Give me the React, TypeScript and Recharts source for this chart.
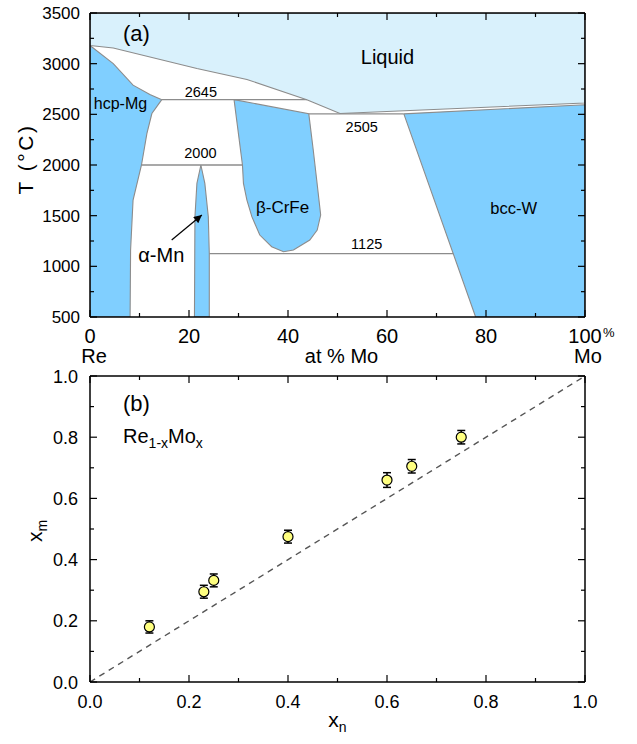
import React from "react";
import {
  ComposedChart,
  Area,
  Line,
  Scatter,
  XAxis,
  YAxis,
  ErrorBar,
  ReferenceDot,
  Label,
} from "recharts";

const FONT = "'Liberation Sans', Arial, Helvetica, sans-serif";
const LIQUID_FILL = "#d9f1fc";
const SOLID_FILL = "#80cfff";
const BOUNDARY = "#8c8c8c";

// ---- (a) Re–Mo phase diagram: x = at% Mo, t = temperature (°C)
const liquidRegion = [
  { x: 0, t: 3500 }, { x: 100, t: 3500 }, { x: 100, t: 2612 }, { x: 50.5, t: 2508 },
  { x: 43.8, t: 2645 }, { x: 31.7, t: 2844 }, { x: 21.6, t: 2952 }, { x: 4.7, t: 3155 },
  { x: 0, t: 3180 }, { x: 0, t: 3500 },
];
const hcpRegion = [
  { x: 0, t: 3180 }, { x: 4.7, t: 3000 }, { x: 8.7, t: 2788 }, { x: 12.1, t: 2696 },
  { x: 14.5, t: 2645 }, { x: 12.5, t: 2508 }, { x: 11.5, t: 2311 }, { x: 10.4, t: 2000 },
  { x: 8.7, t: 1654 }, { x: 8.2, t: 1161 }, { x: 8.1, t: 500 }, { x: 0, t: 500 },
  { x: 0, t: 3180 },
];
const betaRegion = [
  { x: 29.1, t: 2645 }, { x: 44.2, t: 2505 }, { x: 45.1, t: 2148 }, { x: 45.8, t: 1852 },
  { x: 46.6, t: 1506 }, { x: 45.9, t: 1358 }, { x: 44.4, t: 1260 }, { x: 41.1, t: 1161 },
  { x: 39.1, t: 1144 }, { x: 36.7, t: 1194 }, { x: 34.3, t: 1309 }, { x: 32.7, t: 1490 },
  { x: 31.7, t: 1654 }, { x: 31.0, t: 1819 }, { x: 30.8, t: 2000 }, { x: 29.1, t: 2645 },
];
const alphaRegion = [
  { x: 22.4, t: 2000 }, { x: 23.2, t: 1819 }, { x: 23.9, t: 1490 }, { x: 24.1, t: 1125 },
  { x: 24.1, t: 500 }, { x: 21.1, t: 500 }, { x: 21.2, t: 1490 }, { x: 21.6, t: 1819 },
  { x: 22.4, t: 2000 },
];
const bccRegion = [
  { x: 63.4, t: 2505 }, { x: 100, t: 2595 }, { x: 100, t: 500 }, { x: 77.9, t: 500 },
  { x: 63.4, t: 2505 },
];
const line2645 = [{ x: 14.5, t: 2645 }, { x: 43.8, t: 2645 }];
const line2505 = [{ x: 44.2, t: 2505 }, { x: 63.4, t: 2505 }];
const line2000 = [{ x: 10.4, t: 2000 }, { x: 30.8, t: 2000 }];
const line1125 = [{ x: 24.1, t: 1125 }, { x: 73.4, t: 1125 }];
const mnArrow = [{ x: 16.5, t: 1260 }, { x: 22.6, t: 1506 }];

const compTicks = [0, 10, 20, 30, 40, 50, 60, 70, 80, 90, 100];
const tempTicks = [
  500, 750, 1000, 1250, 1500, 1750, 2000, 2250, 2500, 2750, 3000, 3250, 3500,
];

// ---- (b) measured vs nominal Mo fraction
const xnValues = [0.12, 0.23, 0.25, 0.4, 0.6, 0.65, 0.75];
const xmValues = [0.18, 0.295, 0.332, 0.475, 0.66, 0.705, 0.8];
const xmErrors = [0.02, 0.021, 0.021, 0.021, 0.024, 0.022, 0.022];
const diagonal = [{ x: 0, y: 0 }, { x: 1, y: 1 }];
const fracTicks = [0, 0.1, 0.2, 0.3, 0.4, 0.5, 0.6, 0.7, 0.8, 0.9, 1];

const compositionData = xnValues.map((x, i) => ({ x, y: xmValues[i], err: xmErrors[i] }));

const tickLen = (major: boolean) => (major ? 7 : 4);
const isMajorFrac = (v: number) => Math.round(v * 10) % 2 === 0;

// ticks are drawn inward, labels by hand
const PhaseBottomTick = ({ x, y, payload }: any) => {
  const v = payload.value;
  const major = v % 20 === 0;
  return (
    <g fontFamily={FONT} fill="#000">
      <line x1={x} x2={x} y1={y} y2={y - tickLen(major)} stroke="#000" strokeWidth={1.2} />
      {major && (
        <text x={x} y={y + 26} textAnchor="middle" fontSize={20}>
          {v}
        </text>
      )}
      {v === 100 && (
        <text x={x + 18} y={y + 20} fontSize={13}>
          %
        </text>
      )}
      {v === 0 && (
        <text x={x + 4} y={y + 46} textAnchor="middle" fontSize={20}>
          Re
        </text>
      )}
      {v === 100 && (
        <text x={x + 3} y={y + 46} textAnchor="middle" fontSize={20}>
          Mo
        </text>
      )}
    </g>
  );
};
const PhaseTopTick = ({ x, y, payload }: any) => (
  <line x1={x} x2={x} y1={y} y2={y + tickLen(payload.value % 20 === 0)} stroke="#000" strokeWidth={1.2} />
);
const PhaseLeftTick = ({ x, y, payload }: any) => {
  const v = payload.value;
  const major = v % 500 === 0;
  return (
    <g fontFamily={FONT} fill="#000">
      <line x1={x} x2={x + tickLen(major)} y1={y} y2={y} stroke="#000" strokeWidth={1.2} />
      {major && (
        <text x={x - 10} y={y + 6} textAnchor="end" fontSize={17}>
          {v}
        </text>
      )}
    </g>
  );
};
const PhaseRightTick = ({ x, y, payload }: any) => (
  <line x1={x} x2={x - tickLen(payload.value % 500 === 0)} y1={y} y2={y} stroke="#000" strokeWidth={1.2} />
);

const FracBottomTick = ({ x, y, payload }: any) => {
  const v = payload.value;
  const major = isMajorFrac(v);
  return (
    <g fontFamily={FONT} fill="#000">
      <line x1={x} x2={x} y1={y} y2={y - tickLen(major)} stroke="#000" strokeWidth={1.2} />
      {major && (
        <text x={x} y={y + 26} textAnchor="middle" fontSize={18}>
          {v.toFixed(1)}
        </text>
      )}
    </g>
  );
};
const FracTopTick = ({ x, y, payload }: any) => (
  <line x1={x} x2={x} y1={y} y2={y + tickLen(isMajorFrac(payload.value))} stroke="#000" strokeWidth={1.2} />
);
const FracLeftTick = ({ x, y, payload }: any) => {
  const v = payload.value;
  const major = isMajorFrac(v);
  return (
    <g fontFamily={FONT} fill="#000">
      <line x1={x} x2={x + tickLen(major)} y1={y} y2={y} stroke="#000" strokeWidth={1.2} />
      {major && (
        <text x={x - 12} y={y + 6.5} textAnchor="end" fontSize={18}>
          {v.toFixed(1)}
        </text>
      )}
    </g>
  );
};
const FracRightTick = ({ x, y, payload }: any) => (
  <line x1={x} x2={x - tickLen(isMajorFrac(payload.value))} y1={y} y2={y} stroke="#000" strokeWidth={1.2} />
);

const annot =
  (content: React.ReactNode, size: number, anchor: "start" | "middle" = "middle") =>
  (p: any) =>
    (
      <text x={p.cx} y={p.cy} fontSize={size} textAnchor={anchor} fontFamily={FONT} fill="#000">
        {content}
      </text>
    );

const regionStyle = {
  type: "linear" as const,
  dataKey: "t",
  stroke: BOUNDARY,
  strokeWidth: 1.1,
  fillOpacity: 1,
  dot: false,
  activeDot: false,
  isAnimationActive: false,
};
const boundaryStyle = {
  type: "linear" as const,
  dataKey: "t",
  stroke: BOUNDARY,
  strokeWidth: 1.3,
  dot: false,
  activeDot: false,
  isAnimationActive: false,
};
const frame = { stroke: "#000", strokeWidth: 1.5 };

const App = () => {
  return (
    <div
      style={{ position: "absolute", left: 0, top: 0, width: 637, height: 744, background: "#fff", fontFamily: FONT }}
    >
      <div style={{ position: "absolute", left: 0, top: 0 }}>
        <ComposedChart width={637} height={368} margin={{ top: 12, right: 51, bottom: 0, left: 0 }}>
          <defs>
            <marker
              id="mnArrow"
              viewBox="0 0 10 10"
              refX="10"
              refY="5"
              markerWidth="11"
              markerHeight="8"
              markerUnits="userSpaceOnUse"
              orient="auto"
            >
              <path d="M0,0 L10,5 L0,10 z" fill="#000" />
            </marker>
          </defs>
          <Area data={liquidRegion} {...regionStyle} fill={LIQUID_FILL} />
          <Area data={hcpRegion} {...regionStyle} fill={SOLID_FILL} />
          <Area data={betaRegion} {...regionStyle} fill={SOLID_FILL} />
          <Area data={alphaRegion} {...regionStyle} fill={SOLID_FILL} />
          <Area data={bccRegion} {...regionStyle} fill={SOLID_FILL} />
          <Line data={line2645} {...boundaryStyle} />
          <Line data={line2505} {...boundaryStyle} />
          <Line data={line2000} {...boundaryStyle} />
          <Line data={line1125} {...boundaryStyle} />
          <Line
            data={mnArrow}
            dataKey="t"
            type="linear"
            stroke="#000"
            strokeWidth={1.2}
            dot={false}
            activeDot={false}
            markerEnd="url(#mnArrow)"
            isAnimationActive={false}
          />
          {/* invisible series so the mirror axes (top/right) get a domain and render */}
          <Line
            data={liquidRegion}
            xAxisId="top"
            yAxisId="right"
            dataKey="t"
            stroke="none"
            dot={false}
            activeDot={false}
            isAnimationActive={false}
          />

          <ReferenceDot x={6.67} y={3228} r={0} shape={annot("(a)", 22, "start")} />
          <ReferenceDot x={60.1} y={2997} r={0} shape={annot("Liquid", 20)} />
          <ReferenceDot x={6.16} y={2550} r={0} shape={annot("hcp-Mg", 16)} />
          <ReferenceDot x={22.4} y={2674} r={0} shape={annot("2645", 14.5)} />
          <ReferenceDot x={22.3} y={2066} r={0} shape={annot("2000", 14.5)} />
          <ReferenceDot x={54.9} y={2329} r={0} shape={annot("2505", 14.5)} />
          <ReferenceDot x={55.9} y={1171} r={0} shape={annot("1125", 14.5)} />
          <ReferenceDot x={38.9} y={1523} r={0} shape={annot("β-CrFe", 17)} />
          <ReferenceDot x={85.6} y={1516} r={0} shape={annot("bcc-W", 16.5)} />
          <ReferenceDot x={14.4} y={1046} r={0} shape={annot("α-Mn", 20)} />

          <XAxis
            dataKey="x"
            type="number"
            domain={[0, 100]}
            allowDataOverflow
            ticks={compTicks}
            interval={0}
            tickSize={0}
            tickMargin={0}
            tickLine={false}
            tick={PhaseBottomTick}
            axisLine={frame}
            height={51}
          >
            <Label
              content={({ viewBox }: any) => (
                <text
                  x={viewBox.x + viewBox.width / 2 + 4}
                  y={viewBox.y + 46}
                  textAnchor="middle"
                  fontSize={20}
                  fontFamily={FONT}
                  fill="#000"
                >
                  at % Mo
                </text>
              )}
            />
          </XAxis>
          <XAxis
            xAxisId="top"
            orientation="top"
            dataKey="x"
            type="number"
            domain={[0, 100]}
            allowDataOverflow
            ticks={compTicks}
            interval={0}
            tickSize={0}
            tickMargin={0}
            tickLine={false}
            tick={PhaseTopTick}
            axisLine={frame}
            height={1}
          />
          <YAxis
            dataKey="t"
            type="number"
            domain={[500, 3500]}
            allowDataOverflow
            ticks={tempTicks}
            interval={0}
            tickSize={0}
            tickMargin={0}
            tickLine={false}
            tick={PhaseLeftTick}
            axisLine={frame}
            width={90}
          >
            <Label
              content={({ viewBox }: any) => (
                <text
                  transform={`translate(33, ${viewBox.y + viewBox.height / 2 - 6}) rotate(-90)`}
                  textAnchor="middle"
                  fontSize={21}
                  letterSpacing={2.5}
                  fontFamily={FONT}
                  fill="#000"
                >
                  T (°C)
                </text>
              )}
            />
          </YAxis>
          <YAxis
            yAxisId="right"
            orientation="right"
            dataKey="t"
            type="number"
            domain={[500, 3500]}
            allowDataOverflow
            ticks={tempTicks}
            interval={0}
            tickSize={0}
            tickMargin={0}
            tickLine={false}
            tick={PhaseRightTick}
            axisLine={frame}
            width={1}
          />
        </ComposedChart>
      </div>

      <div style={{ position: "absolute", left: 0, top: 368 }}>
        <ComposedChart width={637} height={376} margin={{ top: 7, right: 51, bottom: 0, left: 0 }}>
          <Line
            data={diagonal}
            dataKey="y"
            type="linear"
            stroke="#555"
            strokeWidth={1.4}
            strokeDasharray="6 5"
            dot={false}
            activeDot={false}
            isAnimationActive={false}
          />
          <Line
            data={diagonal}
            xAxisId="top"
            yAxisId="right"
            dataKey="y"
            stroke="none"
            dot={false}
            activeDot={false}
            isAnimationActive={false}
          />
          <Scatter
            data={compositionData}
            dataKey="y"
            isAnimationActive={false}
            shape={(p: any) => (
              <circle cx={p.cx} cy={p.cy} r={5} fill="#ffff80" stroke="#000" strokeWidth={1.2} />
            )}
          >
            <ErrorBar dataKey="err" direction="y" width={4} stroke="#000" strokeWidth={1.5} isAnimationActive={false} />
          </Scatter>

          <ReferenceDot x={0.0667} y={0.884} r={0} shape={annot("(b)", 22, "start")} />
          <ReferenceDot
            x={0.0667}
            y={0.78}
            r={0}
            shape={annot(
              <>
                <tspan fontSize={20}>Re</tspan>
                <tspan fontSize={14} dy={5}>
                  1-x
                </tspan>
                <tspan fontSize={20} dy={-5}>
                  Mo
                </tspan>
                <tspan fontSize={14} dy={5}>
                  x
                </tspan>
              </>,
              20,
              "start"
            )}
          />

          <XAxis
            dataKey="x"
            type="number"
            domain={[0, 1]}
            allowDataOverflow
            ticks={fracTicks}
            interval={0}
            tickSize={0}
            tickMargin={0}
            tickLine={false}
            tick={FracBottomTick}
            axisLine={frame}
            height={62}
          >
            <Label
              content={({ viewBox }: any) => (
                <text
                  x={viewBox.x + viewBox.width / 2}
                  y={viewBox.y + 45}
                  textAnchor="middle"
                  fontFamily={FONT}
                  fill="#000"
                >
                  <tspan fontSize={21}>x</tspan>
                  <tspan fontSize={14} dy={5}>
                    n
                  </tspan>
                </text>
              )}
            />
          </XAxis>
          <XAxis
            xAxisId="top"
            orientation="top"
            dataKey="x"
            type="number"
            domain={[0, 1]}
            allowDataOverflow
            ticks={fracTicks}
            interval={0}
            tickSize={0}
            tickMargin={0}
            tickLine={false}
            tick={FracTopTick}
            axisLine={frame}
            height={1}
          />
          <YAxis
            dataKey="y"
            type="number"
            domain={[0, 1]}
            allowDataOverflow
            ticks={fracTicks}
            interval={0}
            tickSize={0}
            tickMargin={0}
            tickLine={false}
            tick={FracLeftTick}
            axisLine={frame}
            width={90}
          >
            <Label
              content={({ viewBox }: any) => (
                <text
                  transform={`translate(42, ${viewBox.y + viewBox.height / 2 + 2}) rotate(-90)`}
                  textAnchor="middle"
                  fontFamily={FONT}
                  fill="#000"
                >
                  <tspan fontSize={21}>x</tspan>
                  <tspan fontSize={14} dy={5}>
                    m
                  </tspan>
                </text>
              )}
            />
          </YAxis>
          <YAxis
            yAxisId="right"
            orientation="right"
            dataKey="y"
            type="number"
            domain={[0, 1]}
            allowDataOverflow
            ticks={fracTicks}
            interval={0}
            tickSize={0}
            tickMargin={0}
            tickLine={false}
            tick={FracRightTick}
            axisLine={frame}
            width={1}
          />
        </ComposedChart>
      </div>
    </div>
  );
};

export default App;
